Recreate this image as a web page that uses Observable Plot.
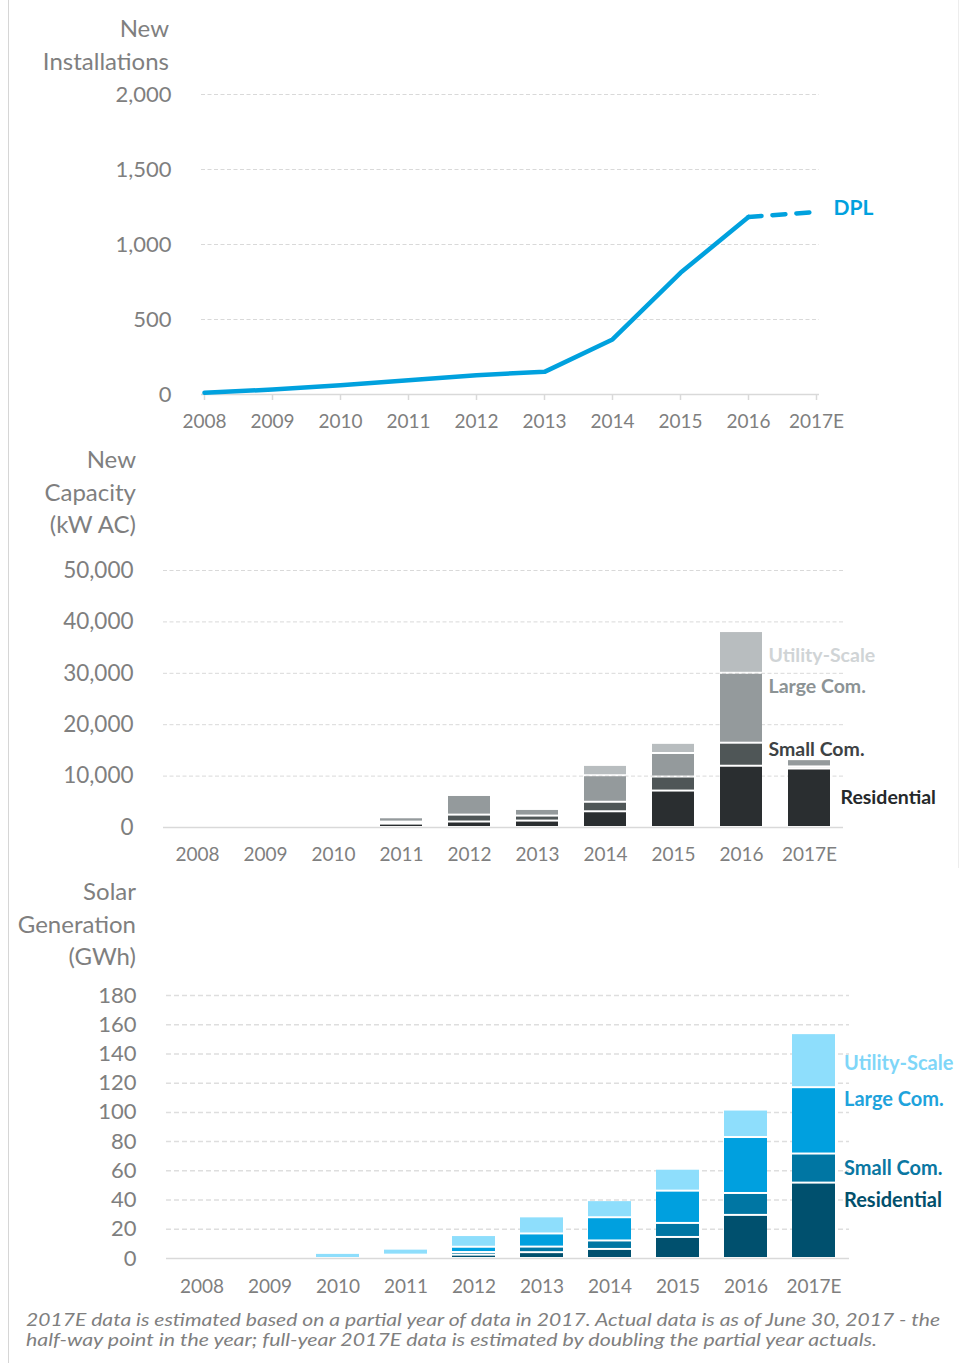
<!DOCTYPE html>
<html>
<head>
<meta charset="utf-8">
<script src="https://cdn.jsdelivr.net/npm/d3@7"></script>
<script src="https://cdn.jsdelivr.net/npm/@observablehq/plot@0.6"></script>
<style>
  html, body { margin: 0; padding: 0; background: #fff; }
  #page { position: relative; width: 960px; height: 1363px; background: #fff; overflow: hidden; font-family: Lato, "Open Sans", sans-serif; }
  .chart { position: absolute; left: 0; }
  .title { position: absolute; text-align: right; color: #7F7F7F; font-size: 24px; line-height: 32.5px; white-space: nowrap; }
  .border { position: absolute; width: 1px; }
</style>
</head>
<body>
<div id="page">
  <div class="border" style="left:8px;top:0;height:1363px;background:#D6D6D6"></div>
  <div class="border" style="left:958px;top:0;height:868px;background:#EDEDED"></div>
  <div class="title" style="right:791px;top:12px;">New<br>Installations</div>
  <div class="title" style="right:824px;top:443px;">New<br>Capacity<br>(kW AC)</div>
  <div class="title" style="right:824px;top:875px;">Solar<br>Generation<br>(GWh)</div>
  <div class="chart" id="c1" style="top:0"></div>
  <div class="chart" id="c2" style="top:440px"></div>
  <div class="chart" id="c3" style="top:870px"></div>
  <svg id="caption" width="960" height="60" style="position:absolute;left:0;top:1300px"></svg>
</div>
<script>
// ---------- data ----------
const years = ["2008","2009","2010","2011","2012","2013","2014","2015","2016","2017E"];

// New installations (DPL)
const installs = [11, 33, 62, 95, 129, 151, 367, 811, 1184, 1217];

// New capacity (kW AC)
const capTypes = ["Residential", "Small Com.", "Large Com.", "Utility-Scale"];
const capResidential = [0, 0, 0, 660, 1070, 1250, 3060, 7090, 11920, 11380];
const capSmallCom    = [0, 0, 0, 390, 1340,  970, 1850, 2730,  4480,   400];
const capLargeCom    = [0, 0, 0, 840, 3820, 1290, 5160, 4580, 13600,  1420];
const capUtility     = [0, 0, 0,   0,    0,    0, 2010, 1970,  8120,     0];

// Solar generation (GWh)
const genTypes = ["Residential", "Small Com.", "Large Com.", "Utility-Scale"];
const genResidential = [0, 0, 0,   0.8, 2.3,  4.0,  6.2, 14.4, 29.5, 51.6];
const genSmallCom    = [0, 0, 0,   0.7, 1.8,  3.8,  5.8,  9.6, 15.0, 19.9];
const genLargeCom    = [0, 0, 0,   0.8, 3.6,  9.0, 15.9, 22.1, 38.3, 45.4];
const genUtility     = [0, 0, 3.5, 4.1, 8.0, 11.7, 11.7, 15.0, 18.8, 37.0];

const installTicks = [0, 500, 1000, 1500, 2000];
const capTicks = [0, 10000, 20000, 30000, 40000, 50000];
const genTicks = [0, 20, 40, 60, 80, 100, 120, 140, 160, 180];

const captionLines = [
  "2017E data is estimated based on a partial year of data in 2017.  Actual data is as of June 30, 2017 - the",
  "half-way point in the year; full-year 2017E data is estimated by doubling the partial year actuals."
];

// ---------- styles ----------
const capColors = ["#2A2E30", "#4F5657", "#949A9C", "#B8BDBF"];
const capLabelColors = ["#25292B", "#3D4244", "#8C9395", "#D0D4D6"];
const genColors = ["#00506E", "#0076A3", "#00A0DF", "#8EDEFC"];
const genLabelColors = ["#02506C", "#0A77A2", "#1FA3DC", "#7FD6F8"];
const tickGray = "#7F7F7F";
const gridGray = "#D9D9D9";
const fmt = d3.format(",");

// ---------- chart 1: installations ----------
const installData = years.map((year, i) => ({year, value: installs[i]}));
const c1 = Plot.plot({
  width: 960, height: 440,
  marginTop: 94, marginBottom: 46, marginLeft: 201, marginRight: 141,
  style: {fontFamily: "Lato, sans-serif", background: "transparent", overflow: "visible"},
  x: {type: "point", domain: years, padding: 0},
  y: {domain: [0, 2000]},
  marks: [
    Plot.ruleY(installTicks.filter(d => d > 0), {stroke: gridGray, strokeDasharray: "4,2.5", strokeWidth: 1}),
    Plot.ruleY([0], {stroke: gridGray, strokeWidth: 1.5}),
    Plot.axisX({tickSize: 6, tickPadding: 14, fontSize: 19, stroke: gridGray, strokeWidth: 1.5, fill: tickGray, label: null}),
    Plot.axisY({ticks: installTicks, tickSize: 0, tickPadding: 30, fontSize: 22, fill: tickGray, tickFormat: fmt, label: null}),
    Plot.line(installData.slice(0, 9), {x: "year", y: "value", stroke: "#00A1DE", strokeWidth: 4.5, strokeLinejoin: "round", strokeLinecap: "round"}),
    Plot.line(installData.slice(8), {x: "year", y: "value", stroke: "#00A1DE", strokeWidth: 4.5, strokeDasharray: "13,11", strokeLinecap: "round"}),
    Plot.text(installData.slice(9), {x: "year", y: "value", text: () => "DPL", dx: 17, dy: -4, textAnchor: "start", fill: "#00A1DE", fontWeight: "bold", fontSize: 21})
  ]
});
document.getElementById("c1").appendChild(c1);

// ---------- chart 2: capacity ----------
const capSeries = [capResidential, capSmallCom, capLargeCom, capUtility];
const capData = [];
years.forEach((year, i) => capTypes.forEach((type, k) => capData.push({year, type, value: capSeries[k][i]})));
const capLabelY = [5800, 15100, 27400, 33500];
const capLabelX = ["2017E", "2016", "2016", "2016"];
const capLabelDx = [31, 27, 27, 27];
const capLabels = capTypes.map((t, k) => ({type: t, x: capLabelX[k], y: capLabelY[k], dx: capLabelDx[k], color: capLabelColors[k]}));

const c2 = Plot.plot({
  width: 960, height: 430,
  marginTop: 130, marginBottom: 43, marginLeft: 163, marginRight: 117,
  style: {fontFamily: "Lato, sans-serif", background: "transparent", overflow: "visible"},
  x: {type: "band", domain: years, paddingInner: 0.385, paddingOuter: 0.1925},
  y: {domain: [0, 50000]},
  color: {domain: capTypes, range: capColors},
  marks: [
    Plot.ruleY(capTicks.filter(d => d > 0), {stroke: gridGray, strokeDasharray: "4,2.5", strokeWidth: 1}),
    Plot.barY(capData, {x: "year", y: "value", fill: "type", insetTop: 1, insetBottom: 1}),
    Plot.ruleY([0], {stroke: gridGray, strokeWidth: 1.5}),
    Plot.axisX({tickSize: 0, tickPadding: 20, fontSize: 19, fill: tickGray, label: null}),
    Plot.axisY({ticks: capTicks, tickSize: 0, tickPadding: 30, fontSize: 22.5, fill: tickGray, tickFormat: fmt, label: null}),
    ...capLabels.map(l => Plot.text([l], {x: "x", y: "y", text: "type", dx: l.dx, textAnchor: "start", fill: l.color, fontWeight: "bold", fontSize: 19.5}))
  ]
});
document.getElementById("c2").appendChild(c2);

// ---------- chart 3: generation ----------
const genSeries = [genResidential, genSmallCom, genLargeCom, genUtility];
const genData = [];
years.forEach((year, i) => genTypes.forEach((type, k) => genData.push({year, type, value: genSeries[k][i]})));
const genLabelY = [39.9, 61.7, 108.9, 133.5];
const genLabels = genTypes.map((t, k) => ({type: t, x: "2017E", y: genLabelY[k], color: genLabelColors[k]}));

const c3 = Plot.plot({
  width: 960, height: 440,
  marginTop: 125, marginBottom: 52, marginLeft: 166, marginRight: 111,
  style: {fontFamily: "Lato, sans-serif", background: "transparent", overflow: "visible"},
  x: {type: "band", domain: years, paddingInner: 0.37, paddingOuter: 0.2},
  y: {domain: [0, 180]},
  color: {domain: genTypes, range: genColors},
  marks: [
    Plot.ruleY(genTicks.filter(d => d > 0), {stroke: "#DEDEDE", strokeDasharray: "5,3", strokeWidth: 1.5}),
    Plot.barY(genData, {x: "year", y: "value", fill: "type", insetTop: 1, insetBottom: 1}),
    Plot.ruleY([0], {stroke: gridGray, strokeWidth: 1.5}),
    Plot.axisX({tickSize: 0, tickPadding: 21, fontSize: 19, fill: tickGray, label: null}),
    Plot.axisY({ticks: genTicks, tickSize: 0, tickPadding: 30, fontSize: 22, fill: tickGray, label: null}),
    ...genLabels.map(l => Plot.text([l], {x: "x", y: "y", text: "type", dx: 30, textAnchor: "start", fill: l.color, fontWeight: "bold", fontSize: 20}))
  ]
});
document.getElementById("c3").appendChild(c3);

// ---------- caption ----------
const cap = d3.select("#caption");
const capWidths = [914, 851];
captionLines.forEach((line, i) => {
  cap.append("text")
    .attr("x", 26).attr("y", 26 + i * 20)
    .attr("textLength", capWidths[i]).attr("lengthAdjust", "spacingAndGlyphs")
    .attr("font-family", "Lato, sans-serif").attr("font-style", "italic")
    .attr("font-size", 16.5).attr("fill", "#7F7F7F")
    .text(line);
});
</script>
</body>
</html>
